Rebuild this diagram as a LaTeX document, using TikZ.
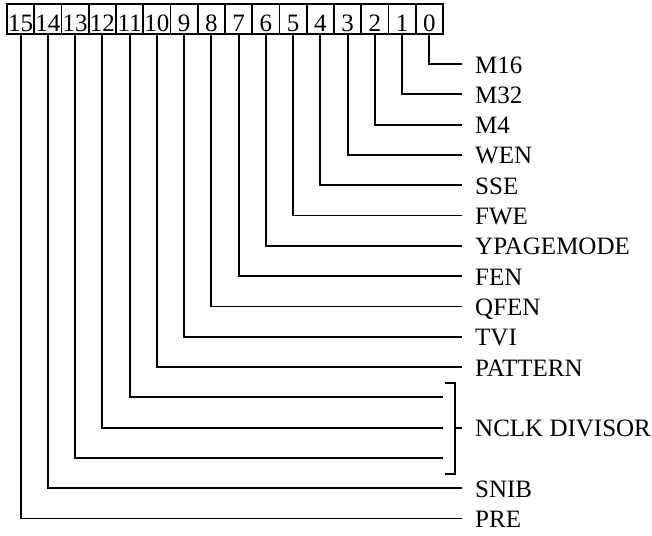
\documentclass[tikz,border=0pt]{standalone}
\usepackage{fontspec}
\setmainfont{Liberation Serif}
\begin{document}
\begin{tikzpicture}[x=1pt,y=-1pt,
  bitbox/.style={draw, minimum width=27.25pt, minimum height=30pt, inner sep=0pt, line width=1.8pt},
  digit/.style={font=\fontsize{25}{30}\selectfont, inner sep=0pt, anchor=base, text depth=0pt},
  lab/.style={font=\fontsize{25}{30}\selectfont, inner sep=0pt, anchor=base west, text depth=0pt},
  wire/.style={line width=1.8pt}]
\useasboundingbox (0,0) rectangle (652,535);
\foreach \i in {0,...,15} {
  \pgfmathsetmacro\bx{7+27.25*(15-\i)+13.625}
  \node[bitbox] (b\i) at (\bx,19) {};
  \node[digit] (d\i) at (\bx,32) {\i};
}
\foreach \i/\t in {0/M16,1/M32,2/M4,3/WEN,4/SSE,5/FWE,6/YPAGEMODE,7/FEN,8/QFEN,9/TVI,10/PATTERN,14/SNIB,15/PRE} {
  \pgfmathsetmacro\ly{64+30.3*\i}
  \node[lab] (l\i) at (475,\ly+9) {\t};
  \coordinate (e\i) at (462,\ly);
  \draw[wire] (b\i.south) |- (e\i);
}
\foreach \i in {11,12,13} {
  \pgfmathsetmacro\ly{64+30.3*\i}
  \coordinate (e\i) at (443,\ly);
  \draw[wire] (b\i.south) |- (e\i);
}
\coordinate (bt) at (445,383);
\coordinate (bb) at (445,474);
\coordinate (bm) at (455,427.6);
\coordinate (mt) at (462,427.6);
\draw[wire] (bt) -- ++(10,0) -- ++(0,91) -- (bb);
\draw[wire] (bm) -- (mt);
\node[lab] (nclk) at (475,436.6) {NCLK DIVISOR};
\end{tikzpicture}
\end{document}
